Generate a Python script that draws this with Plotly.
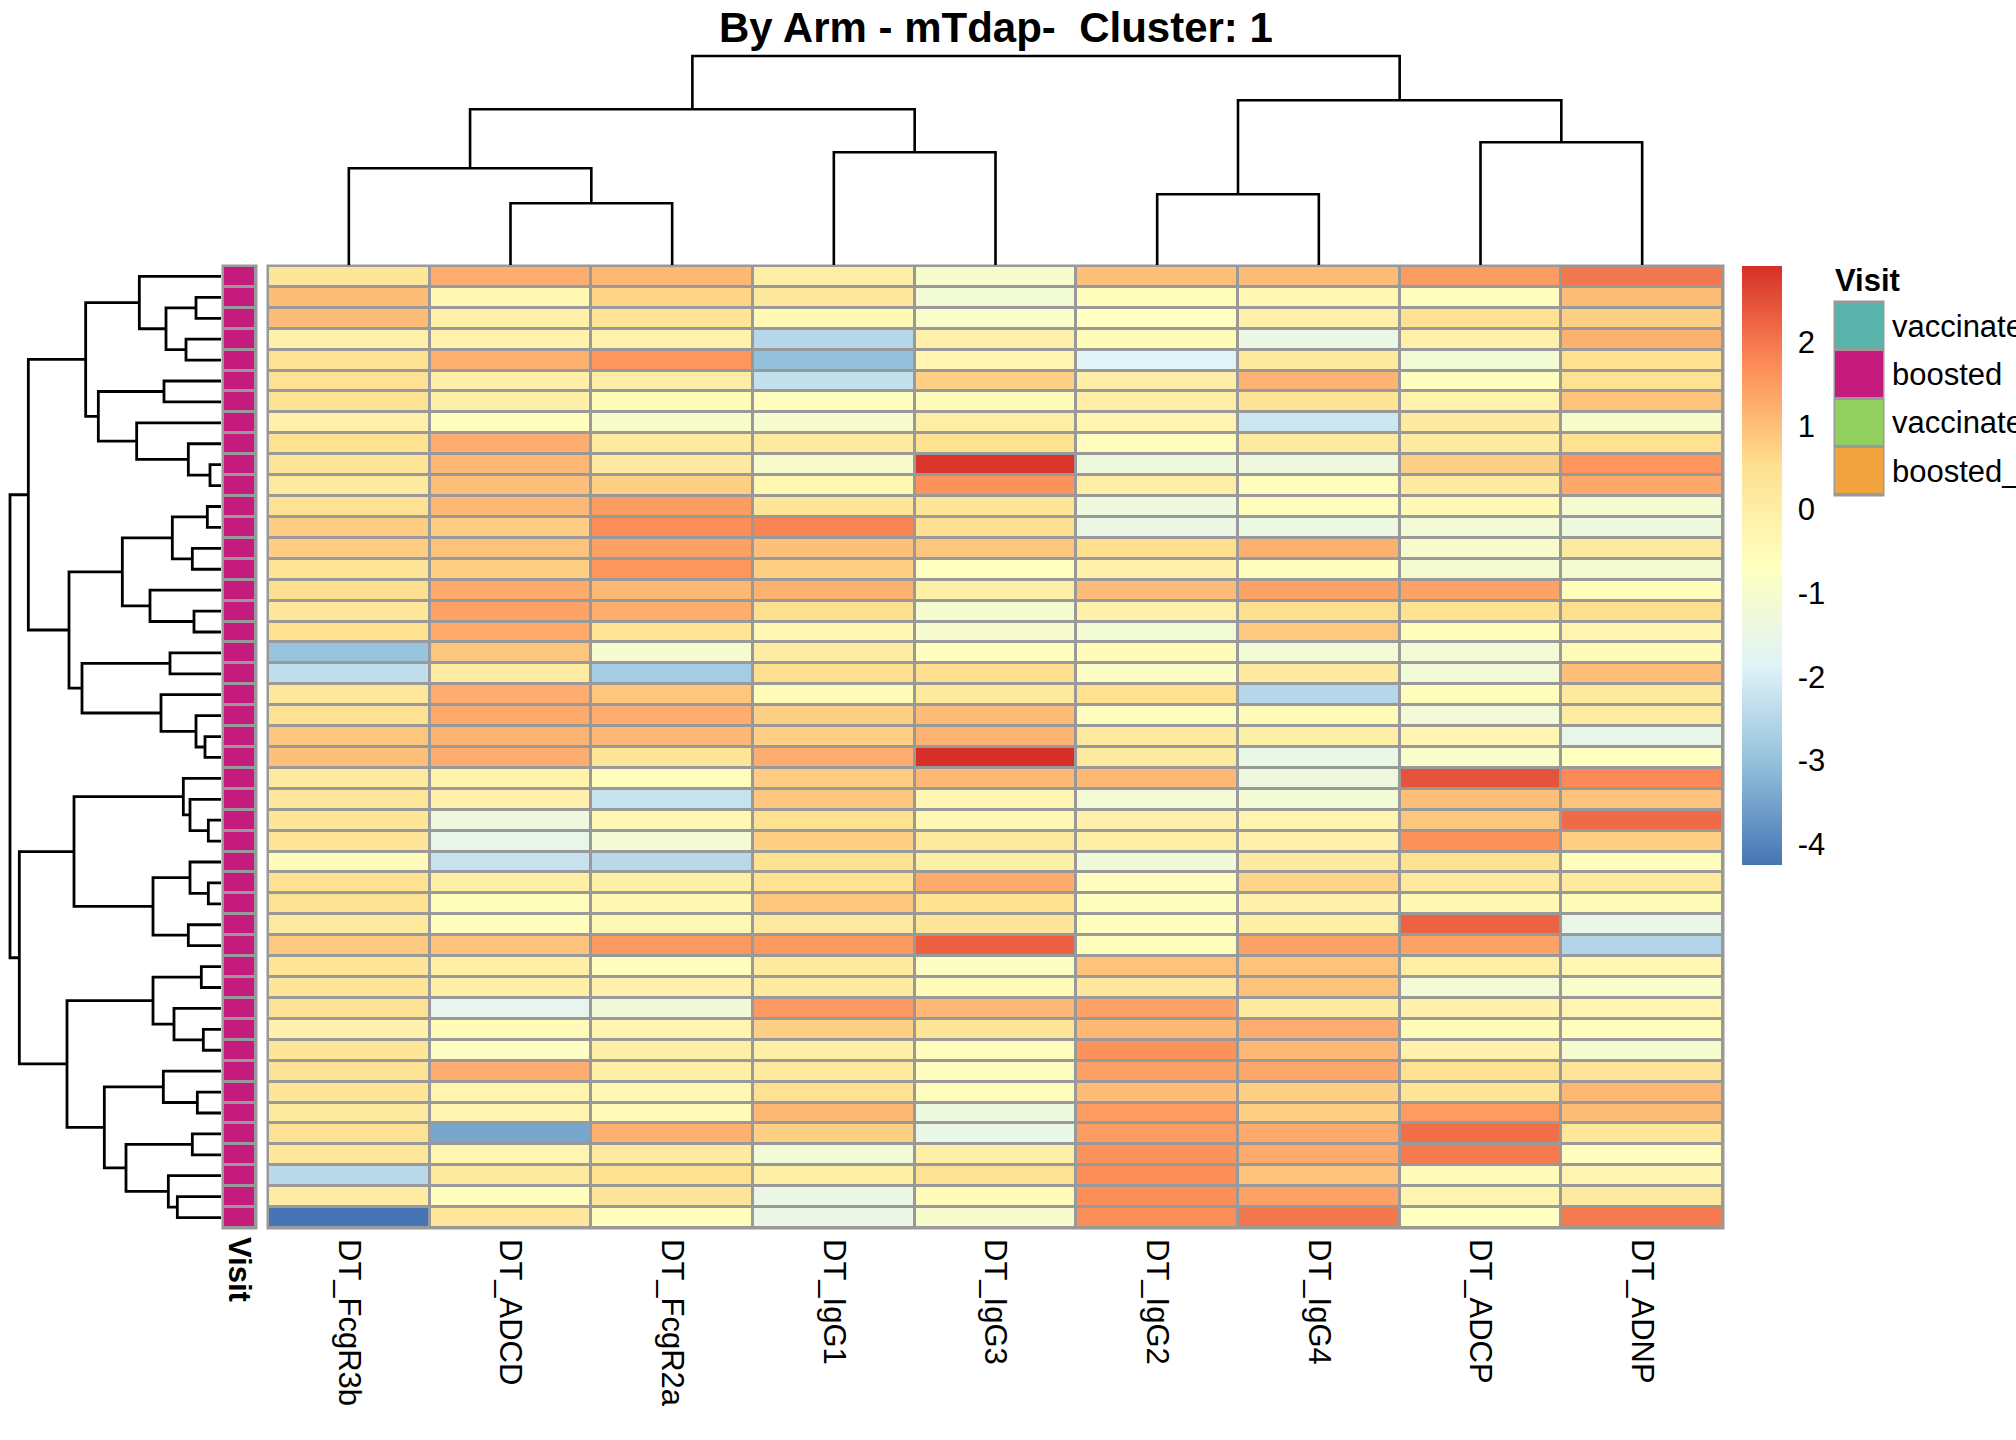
import plotly.graph_objects as go

W, H = 2016, 1440

# heatmap columns (clustered order)
columns = ["DT_FcgR3b", "DT_ADCD", "DT_FcgR2a", "DT_IgG1", "DT_IgG3",
           "DT_IgG2", "DT_IgG4", "DT_ADCP", "DT_ADNP"]

# scaled values, one row per sample, rows in dendrogram order
values = [
    [0.3, 1.25, 1.1, 0.0, -0.95, 1.0, 1.05, 1.5, 2.0],
    [1.05, -0.35, 0.7, 0.2, -1.15, -0.6, -0.4, -0.65, 1.05],
    [1.05, -0.1, 0.35, -0.45, -0.9, -0.7, -0.1, 0.5, 0.75],
    [-0.1, -0.2, -0.2, -2.5, -0.1, -0.55, -1.45, -0.1, 1.2],
    [0.45, 1.2, 1.6, -3.0, -0.3, -1.85, 0.15, -1.15, 0.5],
    [0.45, -0.05, 0.0, -2.3, 0.75, 0.0, 1.15, -0.65, 0.45],
    [0.45, -0.05, -0.55, -0.65, -0.5, 0.0, 0.4, -0.2, 0.95],
    [-0.1, -0.65, -0.95, -1.0, 0.0, -0.3, -2.15, 0.1, -0.95],
    [0.5, 1.25, 0.15, 0.15, 0.5, -0.6, 0.15, 0.15, 0.5],
    [0.35, 1.1, 0.1, -0.95, 2.85, -1.3, -1.3, 0.75, 1.6],
    [0.15, 1.0, 0.75, -0.35, 1.65, -0.05, -0.6, 0.15, 1.35],
    [0.45, 1.1, 1.5, 0.35, 0.35, -1.3, -0.6, -0.45, -1.05],
    [0.8, 0.8, 1.7, 1.85, 0.55, -1.45, -1.4, -1.15, -1.3],
    [0.8, 0.95, 1.45, 1.0, 0.9, 0.55, 1.2, -0.95, 0.15],
    [0.35, 0.75, 1.6, 0.75, -0.7, -0.15, -0.65, -1.05, -1.05],
    [0.55, 1.3, 1.1, 1.2, -0.05, 1.05, 1.4, 1.4, -0.6],
    [0.25, 1.4, 1.25, 0.55, -1.0, -0.1, 0.55, 0.45, 0.55],
    [0.5, 1.3, 0.35, -0.4, -1.0, -1.15, 0.85, -0.6, -0.3],
    [-2.95, 0.9, -1.0, 0.05, -0.65, -0.55, -1.15, -1.15, -0.55],
    [-2.35, 0.05, -2.75, 0.55, 0.55, -0.8, 0.15, -1.15, 1.0],
    [0.25, 1.25, 0.9, -0.55, 0.15, 0.5, -2.5, -0.6, 0.15],
    [0.45, 1.3, 1.25, 0.75, 1.05, -0.6, -0.55, -1.15, 0.05],
    [0.9, 1.15, 1.1, 0.75, 1.15, 0.15, -0.05, -0.3, -1.55],
    [1.0, 1.25, 0.35, 1.25, 2.9, 0.15, -1.5, -0.9, -0.7],
    [0.15, -0.2, -0.6, 0.8, 1.1, 1.1, -1.35, 2.45, 1.75],
    [0.25, -0.15, -2.25, 0.9, -0.3, -1.15, -1.15, 1.0, 0.95],
    [0.35, -1.35, -0.4, 0.5, -0.4, -0.15, -0.3, 0.9, 2.15],
    [0.35, -1.55, -1.1, 0.75, 0.15, -0.05, -0.15, 1.65, 0.75],
    [-0.55, -2.25, -2.45, 0.5, -0.05, -1.2, 0.15, 0.45, -0.6],
    [0.5, -0.05, -0.05, 0.5, 1.3, -0.65, 0.7, 0.15, 0.15],
    [0.45, -0.6, -0.4, 0.9, 0.5, -0.65, -0.15, -0.4, -0.55],
    [0.15, -0.65, -0.4, 0.15, 0.35, -0.65, -0.05, 2.25, -1.5],
    [0.85, 0.95, 1.55, 1.55, 2.3, -0.65, 1.4, 1.4, -2.55],
    [0.35, -0.05, -0.65, 0.15, -0.75, 0.95, 0.95, -0.05, -0.4],
    [0.35, -0.05, -0.15, 0.15, -0.55, 0.25, 0.95, -1.1, -0.9],
    [0.45, -1.65, -1.2, 1.55, 1.1, 1.4, 0.15, -0.15, -0.3],
    [-0.15, -0.55, -0.3, 0.75, 0.35, 1.1, 1.25, -0.55, -0.65],
    [0.35, -0.75, -0.05, -0.05, -0.6, 1.65, 1.1, -0.15, -1.0],
    [0.45, 1.25, -0.05, 0.15, -0.65, 1.45, 1.35, 0.5, 0.35],
    [0.35, -0.3, -0.4, 0.45, -0.6, 1.05, 0.75, 0.35, 1.1],
    [0.15, -0.3, -0.55, 1.1, -1.3, 1.5, 0.75, 1.5, 1.05],
    [0.45, -3.45, 1.2, 0.75, -1.5, 1.5, 1.3, 2.1, 0.25],
    [0.25, -0.3, 0.1, -1.15, -0.05, 1.65, 1.3, 1.95, -0.65],
    [-2.45, 0.15, 0.5, -0.05, 0.45, 1.7, 0.95, -0.55, -0.3],
    [0.05, -0.65, 0.35, -1.45, -0.55, 1.7, 1.4, -0.3, 0.15],
    [-4.25, 0.25, -0.6, -1.45, -0.95, 1.7, 2.0, -0.7, 1.95],
]
n_rows = len(values)

# row annotation
visit = ["boosted"] * n_rows
visit_levels = ["vaccinated", "boosted", "vaccinated_2", "boosted_2"]
visit_colors = ["#5AB4AC", "#C51B7D", "#91CF60", "#F1A340"]

# colour scale (rev RdYlBu, 7 colours) and its limits
heat_colors = ["#4575B4", "#91BFDB", "#E0F3F8", "#FFFFBF", "#FEE090", "#FC8D59", "#D73027"]
z_min, z_max = -4.25, 2.91
bar_ticks = [-4, -3, -2, -1, 0, 1, 2]

# linkages: (a, b, height); ids < n are leaves, n + k is the k-th merge
col_links = [(1, 2, 61.7), (0, 9, 96.7), (3, 4, 112.7), (10, 11, 155.7),
             (5, 6, 70.7), (7, 8, 122.7), (13, 14, 164.7), (12, 15, 209)]

row_links = [
    (1, 2, 75), (3, 4, 105), (46, 47, 165), (0, 48, 245), (5, 6, 171),
    (9, 10, 33), (8, 51, 98), (7, 52, 253), (50, 53, 368), (49, 54, 406),
    (11, 12, 41), (13, 14, 86), (56, 57, 146), (16, 17, 81), (15, 59, 213),
    (58, 60, 296), (18, 19, 153), (22, 23, 48), (21, 63, 75), (20, 64, 180),
    (62, 65, 417), (61, 66, 456), (55, 67, 578), (26, 27, 38), (25, 69, 93),
    (24, 70, 113), (29, 30, 38), (28, 72, 93), (31, 32, 98), (73, 74, 204),
    (71, 75, 441), (33, 34, 59), (36, 37, 53), (35, 78, 141), (77, 79, 204),
    (39, 40, 71), (38, 81, 173), (41, 42, 86), (44, 45, 131), (43, 84, 158),
    (83, 85, 285), (82, 86, 350), (80, 87, 462), (76, 88, 605), (68, 89, 633),
]


def dendro_segments(links, n):
    pos = {i: float(i) for i in range(n)}
    hgt = {i: 0.0 for i in range(n)}
    p_out, h_out = [], []
    for k, (a, b, h) in enumerate(links):
        node = n + k
        pos[node] = (pos[a] + pos[b]) / 2
        hgt[node] = h
        p_out += [pos[a], pos[a], pos[b], pos[b], None]
        h_out += [hgt[a], h, h, hgt[b], None]
    return p_out, h_out


def fx(px):
    return px / W


def fy(py):
    return 1 - py / H


FONT = "Liberation Sans, Arial, sans-serif"
GREY = "#999999"

fig = go.Figure()

# main heatmap
fig.add_trace(go.Heatmap(
    z=values, x=list(range(len(columns))), y=list(range(n_rows)),
    colorscale=[[i / 6, c] for i, c in enumerate(heat_colors)],
    zmin=z_min, zmax=z_max, xgap=3, ygap=3, hoverinfo="skip",
    colorbar=dict(x=fx(1742), xanchor="left", xpad=0, y=fy(266), yanchor="top", ypad=0,
                  len=599, lenmode="pixels", thickness=40, thicknessmode="pixels",
                  outlinewidth=0, tickvals=bar_ticks, ticktext=[str(t) for t in bar_ticks],
                  ticks="outside", ticklen=10, tickcolor="rgba(0,0,0,0)",
                  tickfont=dict(size=31, color="black", family=FONT)),
    xaxis="x", yaxis="y"))

# row dendrogram
rp, rh = dendro_segments(row_links, n_rows)
fig.add_trace(go.Scatter(x=rh, y=rp, mode="lines", line=dict(color="black", width=2.8),
                         hoverinfo="skip", xaxis="x2", yaxis="y2"))

# annotation column
visit_colorscale = [[i / (len(visit_colors) - 1), c] for i, c in enumerate(visit_colors)]
fig.add_trace(go.Heatmap(
    z=[[visit_levels.index(v)] for v in visit], x=[0], y=list(range(n_rows)),
    colorscale=visit_colorscale, zmin=0, zmax=len(visit_levels) - 1,
    showscale=False, xgap=3, ygap=3, hoverinfo="skip", xaxis="x3", yaxis="y3"))

# column dendrogram
cp, ch = dendro_segments(col_links, len(columns))
fig.add_trace(go.Scatter(x=cp, y=ch, mode="lines", line=dict(color="black", width=2.6),
                         hoverinfo="skip", xaxis="x4", yaxis="y4"))

# annotation legend
fig.add_trace(go.Heatmap(
    z=[[i] for i in range(len(visit_levels))], x=[0], y=list(range(len(visit_levels))),
    colorscale=visit_colorscale, zmin=0, zmax=len(visit_levels) - 1,
    showscale=False, ygap=3, hoverinfo="skip", xaxis="x5", yaxis="y5"))

hm_x = [fx(268), fx(1723)]
hm_y = [fy(1228), fy(266)]
base = dict(showgrid=False, zeroline=False, showticklabels=False, ticks="", fixedrange=True,
            automargin=False)
tickfont = dict(size=31, color="black", family=FONT)

fig.update_layout(
    width=W, height=H, margin=dict(l=0, r=0, t=0, b=0, pad=0, autoexpand=False),
    paper_bgcolor="white", plot_bgcolor="white", showlegend=False,
    font=dict(family=FONT, color="black"),
    xaxis=dict(base, domain=hm_x, range=[-0.5, len(columns) - 0.5], showticklabels=True,
               tickvals=list(range(len(columns))), ticktext=columns, tickangle=90,
               tickfont=tickfont, ticklabelstandoff=10, anchor="y"),
    yaxis=dict(base, domain=hm_y, range=[n_rows - 0.5, -0.5], anchor="x"),
    xaxis2=dict(base, domain=[0, fx(221)], range=[663, 0], anchor="y2"),
    yaxis2=dict(base, domain=hm_y, range=[n_rows - 0.5, -0.5], anchor="x2"),
    xaxis3=dict(base, domain=[fx(223), fx(256)], range=[-0.5, 0.5], showticklabels=True,
                tickvals=[0], ticktext=["<b>Visit</b>"], tickangle=90,
                tickfont=tickfont, ticklabelstandoff=8, anchor="y3"),
    yaxis3=dict(base, domain=hm_y, range=[n_rows - 0.5, -0.5], anchor="x3"),
    xaxis4=dict(base, domain=hm_x, range=[-0.5, len(columns) - 0.5], anchor="y4"),
    yaxis4=dict(base, domain=[fy(265), fy(46)], range=[0, 219], anchor="x4"),
    xaxis5=dict(base, domain=[fx(1835), fx(1883)], range=[-0.5, 0.5], anchor="y5"),
    yaxis5=dict(base, domain=[fy(495), fy(302)], range=[len(visit_levels) - 0.5, -0.5],
                side="right", showticklabels=True, tickvals=list(range(len(visit_levels))),
                ticktext=visit_levels, tickfont=tickfont, ticklabelstandoff=8, anchor="x5"),
)

# grey cell borders behind the heatmaps
for xr, yr in [("x", "y"), ("x3", "y3"), ("x5", "y5")]:
    fig.add_shape(type="rect", xref=xr + " domain", yref=yr + " domain",
                  x0=0, x1=1, y0=0, y1=1, layer="below",
                  fillcolor=GREY, line=dict(color=GREY, width=3))

fig.add_annotation(text="<b>By Arm - mTdap-\u00a0 Cluster: 1</b>", xref="paper", yref="paper",
                   x=fx(995.5), y=fy(27), xanchor="center", yanchor="middle", showarrow=False,
                   font=dict(size=42, color="black", family=FONT))
fig.add_annotation(text="<b>Visit</b>", xref="paper", yref="paper",
                   x=fx(1833), y=fy(281), xanchor="left", yanchor="middle", showarrow=False,
                   font=dict(size=31, color="black", family=FONT))

# page body has a default margin; drop it so the figure sits at the window corner
fig.write_html("out.html", config={"displayModeBar": False},
               post_script="document.body.style.margin = '0px';")
